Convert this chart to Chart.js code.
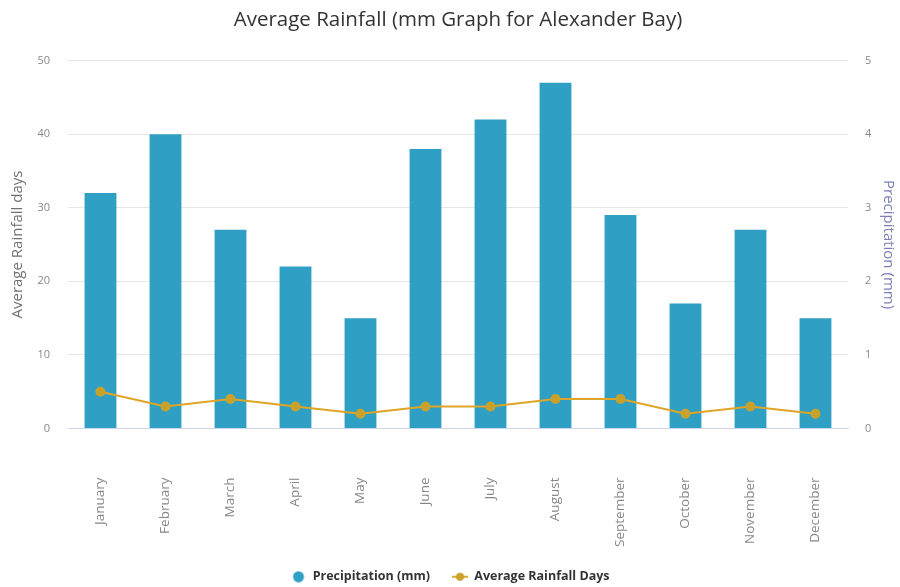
<!DOCTYPE html>
<html>
<head>
<meta charset="utf-8">
<script src="https://cdn.jsdelivr.net/npm/chart.js@4"></script>
<style>
  html, body { margin: 0; padding: 0; background: #ffffff; }
  #wrap { width: 900px; height: 587px; }
</style>
</head>
<body>
<div id="wrap"><canvas id="c" width="900" height="587"></canvas></div>
<script>
// Monthly climate figures for Alexander Bay
const months = ['January', 'February', 'March', 'April', 'May', 'June',
                'July', 'August', 'September', 'October', 'November', 'December'];
const precipitation = [32, 40, 27, 22, 15, 38, 42, 47, 29, 17, 27, 15];
const rainfallDays = [0.5, 0.3, 0.4, 0.3, 0.2, 0.3, 0.3, 0.4, 0.4, 0.2, 0.3, 0.2];
const leftTicks = [0, 10, 20, 30, 40, 50];
const rightTicks = [0, 1, 2, 3, 4, 5];

const barColor = '#2f9fc4';
const lineColor = '#e0a526';
const pointColor = '#c9a22c';

// Legend symbols drawn on small canvases
function circleSymbol() {
  const cv = document.createElement('canvas');
  cv.width = 16; cv.height = 12;
  const g = cv.getContext('2d');
  g.fillStyle = barColor;
  g.beginPath(); g.arc(8, 6, 5.5, 0, Math.PI * 2); g.fill();
  return cv;
}
function lineSymbol() {
  const cv = document.createElement('canvas');
  cv.width = 16; cv.height = 12;
  const g = cv.getContext('2d');
  g.strokeStyle = lineColor; g.lineWidth = 2;
  g.beginPath(); g.moveTo(0, 6); g.lineTo(16, 6); g.stroke();
  g.fillStyle = pointColor;
  g.beginPath(); g.arc(8, 6, 4, 0, Math.PI * 2); g.fill();
  return cv;
}

const ctx = document.getElementById('c').getContext('2d');
new Chart(ctx, {
  data: {
    labels: months,
    datasets: [
      {
        type: 'line',
        label: 'Average Rainfall Days',
        data: rainfallDays,
        yAxisID: 'yRight',
        borderColor: lineColor,
        borderWidth: 2,
        backgroundColor: pointColor,
        pointBackgroundColor: pointColor,
        pointBorderColor: pointColor,
        pointRadius: 4,
        tension: 0,
        order: 0
      },
      {
        type: 'bar',
        label: 'Precipitation (mm)',
        data: precipitation,
        yAxisID: 'yLeft',
        backgroundColor: barColor,
        borderWidth: 0,
        categoryPercentage: 1,
        barPercentage: 0.49,
        order: 1
      }
    ]
  },
  options: {
    responsive: false,
    animation: false,
    layout: { padding: { left: 0, right: 0, top: 2, bottom: -6 } },
    plugins: {
      title: {
        display: true,
        fullSize: false,
        text: 'Average Rainfall (mm Graph for Alexander Bay)',
        color: '#333333',
        font: { family: 'Open Sans', size: 20.5, weight: 'normal' },
        padding: { top: 6, bottom: 28 }
      },
      legend: {
        position: 'bottom',
        reverse: true,
        labels: {
          usePointStyle: true,
          pointStyleWidth: 16,
          boxHeight: 12,
          color: '#333333',
          font: { family: 'Open Sans', size: 12.5, weight: 'bold' },
          padding: 22,
          generateLabels(chart) {
            const items = Chart.defaults.plugins.legend.labels.generateLabels(chart);
            items.forEach(it => {
              it.pointStyle = it.datasetIndex === 0 ? lineSymbol() : circleSymbol();
            });
            return items;
          }
        }
      },
      tooltip: { enabled: false }
    },
    scales: {
      x: {
        grid: { display: false, drawTicks: false },
        border: { color: '#ccd6eb' },
        ticks: {
          color: '#888888',
          font: { family: 'Open Sans', size: 13.5 },
          minRotation: 90,
          maxRotation: 90,
          padding: 49
        },
        afterFit(axis) { axis.height = 120; }
      },
      yLeft: {
        position: 'left',
        min: 0,
        max: 50,
        afterBuildTicks(axis) { axis.ticks = leftTicks.map(v => ({ value: v })); },
        grid: { color: '#e6e6e6', drawTicks: false },
        border: { display: false },
        ticks: {
          color: '#888888',
          font: { family: 'Open Sans', size: 11 },
          padding: 18
        },
        title: {
          display: true,
          text: 'Average Rainfall days',
          color: '#707070',
          font: { family: 'Open Sans', size: 15 },
          padding: 9
        },
        afterFit(axis) { axis.width = 68; }
      },
      yRight: {
        position: 'right',
        min: 0,
        max: 5,
        afterBuildTicks(axis) { axis.ticks = rightTicks.map(v => ({ value: v })); },
        grid: { display: false, drawTicks: false },
        border: { display: false },
        ticks: {
          color: '#888888',
          font: { family: 'Open Sans', size: 11 },
          padding: 17
        },
        title: {
          display: true,
          text: 'Precipitation (mm)',
          color: '#7b80b8',
          font: { family: 'Open Sans', size: 15 },
          padding: 3
        },
        afterFit(axis) { axis.width = 52; }
      }
    }
  }
});
</script>
</body>
</html>
